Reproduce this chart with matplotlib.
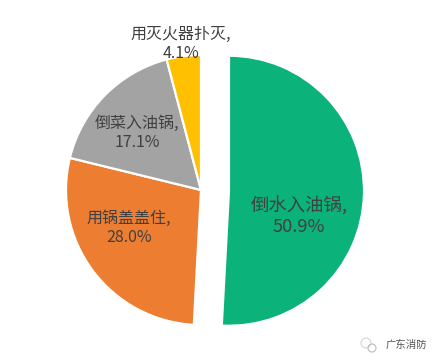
import matplotlib
matplotlib.use('Agg')
import matplotlib.pyplot as plt
from matplotlib.patches import Circle

plt.rcParams['font.family'] = ['Noto Sans CJK SC', 'DejaVu Sans']

# values in percent, clockwise from the top
categories = ['倒水入油锅', '用锅盖盖住', '倒菜入油锅', '用灭火器扑灭']
values = [50.9, 28.0, 17.1, 4.1]
colors = ['#0bb27a', '#ed7d31', '#a3a3a3', '#ffc000']

fig = plt.figure(figsize=(4.4, 3.64), dpi=100)
ax = fig.add_axes([0, 0, 1, 1])

# axes in pixels, y measured from the bottom of the image
H = 364
wedges, _ = ax.pie(values, colors=colors, startangle=90, counterclock=False,
                   explode=[28, 0, 0, 0], center=(201, H - 190), radius=135,
                   wedgeprops={'edgecolor': 'white', 'linewidth': 1.6}, frame=True)
ax.set_xlim(0, 440)
ax.set_ylim(0, H)
ax.set_aspect('equal')
ax.axis('off')

label_pos = [(299, 216), (129, 228), (137, 133), (181, 44)]
sizes = [13.2, 11.5, 11.5, 11.5]
for name, v, pos, s in zip(categories, values, label_pos, sizes):
    ax.text(pos[0], H - pos[1], f'{name},\n{v:.1f}%', ha='center', va='center',
            fontsize=s, color='#404040', linespacing=1.15)

# watermark in the corner
ax.add_patch(Circle((366, H - 343), 5, fill=False, ec='#d4d4d4', lw=0.8))
ax.add_patch(Circle((372, H - 348), 4, fill=False, ec='#bcbcbc', lw=0.8))
ax.text(406, H - 345, '广东消防', ha='center', va='center', fontsize=7.5, color='#555555')

fig.savefig('out.png', dpi=100)
